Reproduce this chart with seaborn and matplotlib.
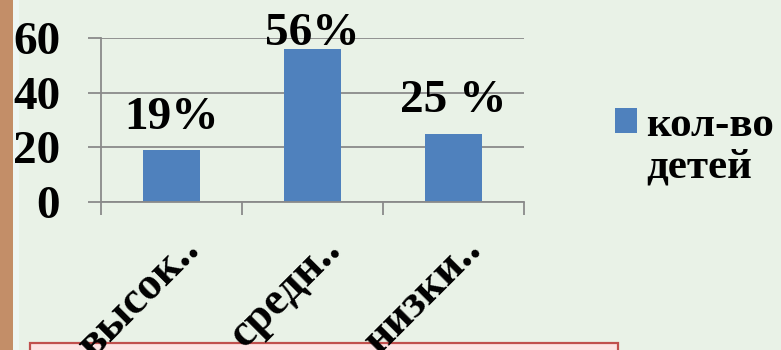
import matplotlib
matplotlib.use("Agg")
import matplotlib.pyplot as plt
from matplotlib.patches import Rectangle, Patch
from matplotlib.transforms import ScaledTranslation
import seaborn as sns
import pandas as pd

# Data
categories = ["высок..", "средн..", "низки.."]
values = [19, 56, 25]
value_labels = ["19%", "56%", "25 %"]
series_name = "кол-во\nдетей"
y_ticks = [0, 20, 40, 60]

BG = "#e9f2e7"
BAR = "#4f81bd"
GRID = "#8a8a8a"
W, H = 781, 350

sns.set_theme(style="white")
plt.rcParams["font.family"] = ["Liberation Serif", "DejaVu Serif"]
plt.rcParams["font.weight"] = "bold"
plt.rcParams["text.color"] = "black"
plt.rcParams["xtick.color"] = "black"
plt.rcParams["ytick.color"] = "black"

fig = plt.figure(figsize=(W / 100, H / 100), dpi=100, facecolor=BG)

# slide decorations: brown edge strip and the text box at the bottom
fig.add_artist(Rectangle((0, 0), 12.7 / W, 1, transform=fig.transFigure,
                         facecolor="#c38e68", edgecolor="none", zorder=-2))
fig.add_artist(Rectangle((12.7 / W, 0), 6 / W, 1, transform=fig.transFigure,
                         facecolor="#eef6f3", edgecolor="none", zorder=-2))
fig.add_artist(Rectangle((30 / W, -0.05), 588 / W, 7 / H + 0.05,
                         transform=fig.transFigure, facecolor="#fde3e3",
                         edgecolor="#c0504d", lw=1.6, zorder=-1))

ax = fig.add_axes([101 / W, 148 / H, 423 / W, 164 / H])
ax.set_facecolor(BG)

df = pd.DataFrame({"level": categories, "count": values})
sns.barplot(data=df, x="level", y="count", color=BAR, saturation=1,
            width=0.4, linewidth=0, ax=ax, zorder=2)

ax.set_xlim(-0.5, 2.5)
ax.set_ylim(0, 60)
ax.set_xlabel("")
ax.set_ylabel("")
ax.set_yticks(y_ticks)
ax.set_yticklabels([str(t) for t in y_ticks], fontsize=34, fontweight="bold")
ax.yaxis.grid(True, color=GRID, lw=1.3)
ax.xaxis.grid(False)
ax.set_axisbelow(True)

for side in ("top", "right"):
    ax.spines[side].set_visible(False)
for side in ("left", "bottom"):
    ax.spines[side].set_color(GRID)
    ax.spines[side].set_linewidth(1.3)

ax.tick_params(axis="y", which="major", direction="out", left=True,
               length=13 * 0.72, width=1.3, color=GRID, pad=20)

# category boundary tick marks
ax.set_xticks([-0.5, 0.5, 1.5, 2.5], minor=True)
ax.tick_params(axis="x", which="minor", direction="out", bottom=True,
               length=13 * 0.72, width=1.3, color=GRID)
ax.set_xticks(range(len(categories)))
ax.set_xticklabels(categories, rotation=45, ha="right", va="baseline",
                   rotation_mode="anchor", fontsize=33, fontweight="bold")
ax.tick_params(axis="x", which="major", length=0, pad=49 * 0.72)
shift = ScaledTranslation(29.6 / 100, 0, fig.dpi_scale_trans)
for lbl in ax.get_xticklabels():
    lbl.set_transform(lbl.get_transform() + shift)

# value labels above the bars, kept inside the plot height
for i, (v, txt) in enumerate(zip(values, value_labels)):
    ax.text(i, min(v + 7.8, 57.4), txt, ha="center", va="baseline",
            fontsize=34, fontweight="bold", color="black")

leg = fig.legend(handles=[Patch(facecolor=BAR, edgecolor="none")],
                 labels=[series_name], loc="upper left",
                 bbox_to_anchor=(615 / W, 1 - 107 / H), frameon=False,
                 fontsize=31, handlelength=0.5, handleheight=0.5,
                 handletextpad=0.22, borderpad=0, borderaxespad=0,
                 labelspacing=0)
for t in leg.get_texts():
    t.set_linespacing(1.12)
# align the swatch with the first line of the label
handle = leg.legend_handles[0]
handle.set_y(handle.get_y() + 18.5)

fig.savefig("out.png", dpi=100, facecolor=BG)
